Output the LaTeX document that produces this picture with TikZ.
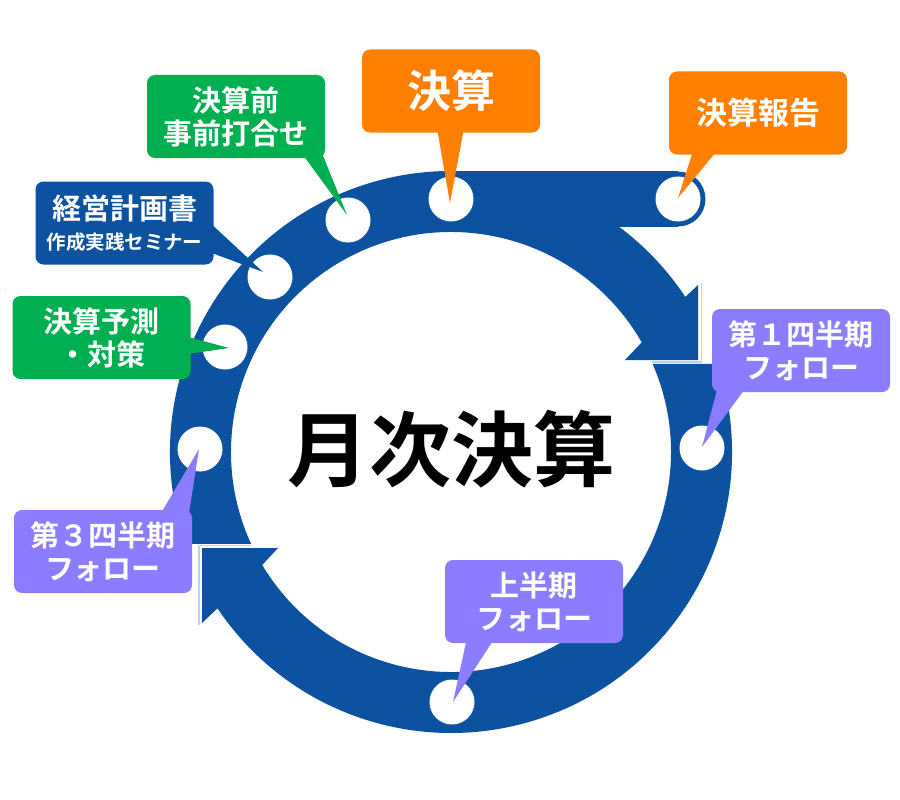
\documentclass[tikz,border=0pt]{standalone}
\usepackage{fontspec}
\newfontfamily\jp{Noto Sans CJK JP}[BoldFont={Noto Sans CJK JP Bold}]
\usetikzlibrary{calc}
\definecolor{ringblue}{HTML}{0C52A0}
\definecolor{corange}{HTML}{FF8000}
\definecolor{cgreen}{HTML}{00B050}
\definecolor{cpurple}{HTML}{8C7CFF}
\definecolor{pale}{HTML}{BFD0E8}
\begin{document}
\begin{tikzpicture}[x=1pt,y=-1pt,
  callout/.style={rounded corners=8pt, minimum width=178pt, minimum height=83pt,
    inner sep=0pt, align=center, text=white,
    font=\jp\bfseries\fontsize{29}{33}\selectfont},
  hole/.style={circle, fill=white, minimum size=45pt, inner sep=0pt},
  paleline/.style={draw=pale, line width=1.3pt},
]
\useasboundingbox (0,0) rectangle (900,800);

% shaft A (left/top) with arrowhead at upper right
\fill[ringblue] ([shift={(451,452)}]160.9:281) arc[start angle=160.9, end angle=326.5, radius=281]
  -- (698,285) -- (698,360) -- (625,360)
  -- ([shift={(451,452)}]330.1:220) arc[start angle=330.1, end angle=155.3, radius=220] -- cycle;
% shaft B (right/bottom) with arrowhead at lower left
\fill[ringblue] ([shift={(451,452)}]-18.25:281) arc[start angle=-18.25, end angle=146.2, radius=281]
  -- (202,623) -- (202,548) -- (278,548)
  -- ([shift={(451,452)}]149.1:220) arc[start angle=149.1, end angle=-23.6, radius=220] -- cycle;
% pale outlines
\draw[paleline] (701.5,283) -- (701.5,362) -- (652,362);
\draw[paleline] (199,625) -- (199,545.5) -- (251,545.5);
% top band
\fill[ringblue] (451,171) rectangle (678,227);
\fill[ringblue] (678,199) circle[radius=27.5];

% holes
\node[hole] (c1) at (451,199) {};
\node[hole] (c2) at (678,199) {};
\node[hole] (c3) at (348,220) {};
\node[hole] (c4) at (270,277) {};
\node[hole] (c5) at (225,347) {};
\node[hole] (c6) at (200,449) {};
\node[hole] (c7) at (702,448) {};
\node[hole] (c8) at (452,702) {};

% pointer tips
\coordinate (t1) at (450,203);
\coordinate (t2) at (678,198);
\coordinate (t3) at (347,215);
\coordinate (t4) at (263,272);
\coordinate (t5) at (229,348);
\coordinate (t6) at (702,447);
\coordinate (t7) at (199,449);
\coordinate (t8) at (453,702);

% callouts
\node[callout, fill=corange, font=\jp\bfseries\fontsize{44}{48}\selectfont] (b1) at (451,91) {決算};
\fill[corange] ([xshift=-15pt,yshift=10pt]b1.south) -- (t1) -- ([xshift=14pt,yshift=10pt]b1.south) -- cycle;

\node[callout, fill=corange, font=\jp\bfseries\fontsize{31}{35}\selectfont] (b2) at (758,113) {決算報告};
\fill[corange] ([xshift=-63pt,yshift=10pt]b2.south) -- (t2) -- ([xshift=-36pt,yshift=10pt]b2.south) -- cycle;

\node[callout, fill=cgreen] (b3) at (236,116.5) {決算前\\事前打合せ};
\fill[cgreen] ([xshift=62pt,yshift=10pt]b3.south) -- (t3) -- ([xshift=84pt,yshift=10pt]b3.south) -- cycle;

\node[callout, fill=ringblue] (b4) at (124.5,223) {経営計画書\\[-3pt]{\fontsize{19.5}{22}\selectfont 作成実践セミナー}};
\fill[ringblue] ([xshift=-10pt,yshift=6pt]b4.east) -- (t4) -- ([xshift=-10pt,yshift=-27pt]b4.east) -- cycle;

\node[callout, fill=cgreen] (b5) at (101.5,337.5) {決算予測\\・対策};
\fill[cgreen] ([xshift=-10pt,yshift=2.5pt]b5.east) -- (t5) -- ([xshift=-10pt,yshift=-17.5pt]b5.east) -- cycle;

\node[callout, fill=cpurple] (b6) at (801,350.5) {第１四半期\\フォロー};
\fill[cpurple] ([xshift=-82pt,yshift=10pt]b6.south) -- (t6) -- ([xshift=-51pt,yshift=10pt]b6.south) -- cycle;

\node[callout, fill=cpurple] (b7) at (103,551.5) {第３四半期\\フォロー};
\fill[cpurple] ([xshift=54pt,yshift=-10pt]b7.north) -- (t7) -- ([xshift=85pt,yshift=-10pt]b7.north) -- cycle;

\node[callout, fill=cpurple] (b8) at (534,601.5) {上半期\\フォロー};
\fill[cpurple] ([xshift=-66pt,yshift=10pt]b8.south) -- (t8) -- ([xshift=-36pt,yshift=10pt]b8.south) -- cycle;

% title
\node[font=\jp\bfseries\fontsize{82}{90}\selectfont, inner sep=0pt] (title) at (451,449) {月次決算};
\end{tikzpicture}
\end{document}
